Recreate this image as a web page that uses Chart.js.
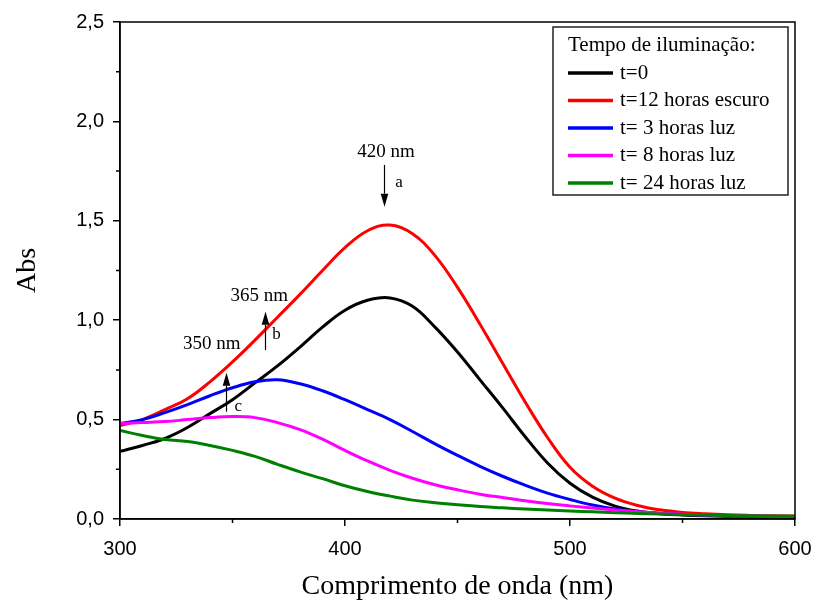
<!DOCTYPE html>
<html><head><meta charset="utf-8">
<script src="https://cdn.jsdelivr.net/npm/chart.js@4.4.1/dist/chart.umd.min.js"></script>
<style>html,body{margin:0;padding:0;background:#fff}#wrap{width:814px;height:601px;position:relative}</style>
</head><body><div id="wrap"><canvas id="c" width="814" height="601"></canvas></div>
<script>
// ---- data ----
const wavelengths = [300,310,320,330,340,350,360,370,380,390,400,410,420,430,440,450,460,470,480,490,500,510,520,530,540,550,560,570,580,590,600];
const absT0  = [0.34,0.37,0.405,0.46,0.53,0.60,0.685,0.77,0.865,0.965,1.05,1.10,1.112,1.07,0.965,0.84,0.70,0.56,0.415,0.282,0.18,0.11,0.065,0.04,0.027,0.02,0.016,0.014,0.013,0.012,0.012];
const absT12 = [0.47,0.50,0.55,0.605,0.69,0.79,0.90,1.015,1.13,1.25,1.365,1.45,1.479,1.435,1.325,1.165,0.98,0.785,0.59,0.41,0.26,0.165,0.105,0.068,0.046,0.033,0.026,0.021,0.018,0.016,0.015];
const absT3  = [0.48,0.50,0.535,0.575,0.62,0.66,0.69,0.70,0.68,0.645,0.60,0.55,0.50,0.44,0.378,0.32,0.265,0.215,0.17,0.13,0.098,0.07,0.05,0.037,0.029,0.023,0.019,0.016,0.014,0.013,0.012];
const absT8  = [0.48,0.485,0.49,0.50,0.51,0.515,0.51,0.485,0.45,0.402,0.345,0.292,0.245,0.205,0.172,0.147,0.125,0.108,0.092,0.078,0.066,0.055,0.045,0.036,0.029,0.024,0.02,0.017,0.015,0.014,0.013];
const absT24 = [0.445,0.42,0.40,0.39,0.37,0.345,0.315,0.275,0.237,0.203,0.167,0.138,0.115,0.095,0.082,0.072,0.063,0.056,0.05,0.045,0.04,0.036,0.032,0.028,0.025,0.022,0.02,0.018,0.016,0.015,0.014];
const seriesLabels = ['t=0','t=12 horas escuro','t= 3 horas luz','t= 8 horas luz','t= 24 horas luz'];
const legendTitle = 'Tempo de iluminação:';
const xTicks = [300,400,500,600];
const xMinorTicks = [350,450,550];
const yTicks = [0,0.5,1.0,1.5,2.0,2.5];
const yMinorTicks = [0.25,0.75,1.25,1.75,2.25];
const xTitle = 'Comprimento de onda (nm)';
const yTitle = 'Abs';
// annotation texts and their anchor points in data units
const noteTexts = ['420 nm','365 nm','350 nm'];
const noteX = [418.2,361.9,340.8];
const noteY = [1.848,1.123,0.880];
const arrowLetters = ['a','b','c'];
const arrowX = [417.5,364.4,347.1];
const arrowFrom = [1.781,0.850,0.540];
const arrowTo = [1.571,1.043,0.736];
const letterX = [424.0,369.6,352.6];
const letterY = [1.695,0.926,0.565];

// ---- styling ----
const colors = ['#000000','#ff0000','#0000ff','#ff00ff','#008000'];
const SANS = '"Liberation Sans", Arial, sans-serif';
const SERIF = '"Liberation Serif", "Times New Roman", serif';
const seriesValues = [absT0,absT12,absT3,absT8,absT24];

const datasets = seriesValues.map((vals,i)=>({
  label: seriesLabels[i],
  data: wavelengths.map((w,k)=>({x:w,y:vals[k]})),
  borderColor: colors[i],
  backgroundColor: colors[i],
  borderWidth: 3,
  pointRadius: 0,
  tension: 0.4,
  fill: false,
  order: 5-i
}));

const frame = {
  id:'frame',
  afterDraw(chart){
    const {ctx, chartArea:a, scales:{x,y}} = chart;
    ctx.save();
    ctx.strokeStyle='#000'; ctx.lineWidth=1.5;
    ctx.strokeRect(a.left, a.top, a.right-a.left, a.bottom-a.top);
    ctx.beginPath();
    yMinorTicks.forEach(v=>{const p=y.getPixelForValue(v); ctx.moveTo(a.left-4,p); ctx.lineTo(a.left,p);});
    xMinorTicks.forEach(v=>{const p=x.getPixelForValue(v); ctx.moveTo(p,a.bottom); ctx.lineTo(p,a.bottom+4);});
    ctx.stroke();

    // annotations
    ctx.fillStyle='#000'; ctx.strokeStyle='#000';
    ctx.textAlign='center'; ctx.textBaseline='middle';
    ctx.font = '19px '+SERIF;
    noteTexts.forEach((t,i)=>{ ctx.fillText(t, x.getPixelForValue(noteX[i]), y.getPixelForValue(noteY[i])); });
    arrowLetters.forEach((t,i)=>{
      const px = Math.round(x.getPixelForValue(arrowX[i]))+0.5;
      const p0 = y.getPixelForValue(arrowFrom[i]);
      const p1 = y.getPixelForValue(arrowTo[i]);
      const dir = p1>p0 ? 1 : -1;
      const head = 13;
      ctx.lineWidth=1.2;
      ctx.beginPath(); ctx.moveTo(px,p0); ctx.lineTo(px,p1-dir*head); ctx.stroke();
      ctx.beginPath(); ctx.moveTo(px,p1); ctx.lineTo(px-3.8,p1-dir*head); ctx.lineTo(px+3.8,p1-dir*head); ctx.closePath(); ctx.fill();
      ctx.font = '17px '+SERIF;
      ctx.fillText(t, x.getPixelForValue(letterX[i]), y.getPixelForValue(letterY[i]));
    });

    // legend box
    const lx = a.right-242, ly = a.top+5, lw = 235, lh = 168;
    ctx.lineWidth=1.5; ctx.strokeStyle='#222';
    ctx.fillStyle='#fff';
    ctx.fillRect(lx,ly,lw,lh);
    ctx.strokeRect(lx,ly,lw,lh);
    ctx.fillStyle='#000';
    ctx.textAlign='left'; ctx.textBaseline='middle';
    ctx.font='21px '+SERIF;
    ctx.fillText(legendTitle, lx+15, ly+18);
    chart.data.datasets.forEach((ds,i)=>{
      const cy = ly+46+i*27.5;
      ctx.strokeStyle = ds.borderColor; ctx.lineWidth=3.5;
      ctx.beginPath(); ctx.moveTo(lx+15,cy); ctx.lineTo(lx+60,cy); ctx.stroke();
      ctx.fillStyle='#000';
      ctx.fillText(ds.label, lx+67, cy);
    });
    ctx.restore();
  }
};

new Chart(document.getElementById('c'), {
  type:'line',
  data:{datasets},
  options:{
    responsive:false,
    animation:false,
    devicePixelRatio:1,
    layout:{padding:{top:22,right:19,left:0,bottom:0}},
    plugins:{legend:{display:false},tooltip:{enabled:false}},
    scales:{
      x:{
        type:'linear', min:300, max:600,
        afterFit(s){ s.height = 82; s.paddingLeft = 0; s.paddingRight = 0; },
        afterBuildTicks(s){ s.ticks = xTicks.map(v=>({value:v})); },
        ticks:{color:'#000', font:{family:SANS,size:20}, padding:11, maxRotation:0, autoSkip:false},
        grid:{drawOnChartArea:false, drawTicks:true, tickLength:7, color:'#000', lineWidth:1.5},
        border:{display:true,color:'#000',width:1.5},
        title:{display:true,text:xTitle,color:'#000',font:{family:SERIF,size:28,lineHeight:1},padding:{top:0,bottom:0}}
      },
      y:{
        type:'linear', min:0, max:2.5,
        afterFit(s){ s.width = 120; s.paddingTop = 0; s.paddingBottom = 0; },
        afterBuildTicks(s){ s.ticks = yTicks.map(v=>({value:v})); },
        ticks:{color:'#000', font:{family:SANS,size:20}, padding:9, autoSkip:false,
          callback:v=>v.toFixed(1).replace('.',',')},
        grid:{drawOnChartArea:false, drawTicks:true, tickLength:7, color:'#000', lineWidth:1.5},
        border:{display:true,color:'#000',width:1.5},
        title:{display:true,text:yTitle,color:'#000',font:{family:SERIF,size:28,lineHeight:1.2},padding:{top:11,bottom:0}}
      }
    }
  },
  plugins:[frame]
});
</script></body></html>
